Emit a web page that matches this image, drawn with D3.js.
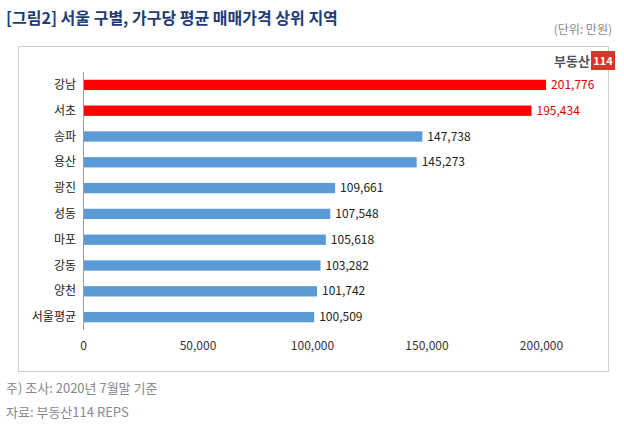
<!DOCTYPE html>
<html><head><meta charset="utf-8">
<script src="https://cdn.jsdelivr.net/npm/d3@7.9.0/dist/d3.min.js"></script>
<style>body{margin:0;background:#fff;font-family:"Noto Sans CJK KR","Noto Sans",sans-serif;}</style>
</head><body><div id="chart"></div>
<script>
const districts = ["강남","서초","송파","용산","광진","성동","마포","강동","양천","서울평균"];
const prices = [201776,195434,147738,145273,109661,107548,105618,103282,101742,100509];
const highlighted = ["강남","서초"];
const xTicks = [0,50000,100000,150000,200000];

const W = 624, H = 428;
const svg = d3.select("#chart").append("svg").attr("width", W).attr("height", H);

svg.append("text").attr("x", 6).attr("y", 24).attr("fill", "#1f3b73")
  .attr("font-size", 16).attr("font-weight", "bold")
  .text("[그림2] 서울 구별, 가구당 평균 매매가격 상위 지역");
svg.append("text").attr("x", 612).attr("y", 34).attr("text-anchor", "end")
  .attr("fill", "#888").attr("font-size", 12).text("(단위: 만원)");

svg.append("rect").attr("x", 18.5).attr("y", 46.5).attr("width", 590).attr("height", 325)
  .attr("fill", "none").attr("stroke", "#d0d0d0");

// logo
svg.append("text").attr("x", 590).attr("y", 66).attr("text-anchor", "end")
  .attr("fill", "#555").attr("font-size", 13).attr("font-weight", "bold").text("부동산");
svg.append("rect").attr("x", 591).attr("y", 51).attr("width", 24).attr("height", 19).attr("fill", "#e0312b");
svg.append("text").attr("x", 603).attr("y", 65).attr("text-anchor", "middle")
  .attr("fill", "#fff").attr("font-size", 11).attr("font-weight", "bold").text("114");

const x = d3.scaleLinear().domain([0, 200000]).range([83, 541]);
const y = d3.scaleBand().domain(districts).range([72, 330]).paddingInner(0.6).paddingOuter(0.3);

svg.append("line").attr("x1", 83.5).attr("x2", 83.5).attr("y1", 72).attr("y2", 330).attr("stroke", "#999");

svg.append("g").attr("transform", "translate(0,338)")
  .call(d3.axisBottom(x).tickValues(xTicks).tickFormat(d3.format(",")).tickSize(0))
  .call(g => g.select(".domain").remove())
  .selectAll("text").attr("font-size", 12).attr("fill", "#333")
  .attr("font-family", "'Noto Sans CJK KR', sans-serif");

const rows = svg.selectAll(".row").data(districts).enter().append("g");
rows.append("rect").attr("x", x(0) + 1).attr("y", d => y(d))
  .attr("width", (d, i) => x(prices[i]) - x(0)).attr("height", y.bandwidth())
  .attr("fill", d => highlighted.includes(d) ? "#ff0000" : "#5b9bd5");
rows.append("text").attr("x", 76).attr("y", d => y(d) + y.bandwidth() / 2 + 4)
  .attr("text-anchor", "end").attr("font-size", 12).attr("fill", "#222").text(d => d);
rows.append("text").attr("x", (d, i) => x(prices[i]) + 6).attr("y", d => y(d) + y.bandwidth() / 2 + 4)
  .attr("font-size", 12).attr("fill", d => highlighted.includes(d) ? "#e00000" : "#222")
  .text((d, i) => d3.format(",")(prices[i]));

svg.append("text").attr("x", 6).attr("y", 393).attr("fill", "#888").attr("font-size", 13)
  .text("주) 조사: 2020년 7월말 기준");
svg.append("text").attr("x", 6).attr("y", 417).attr("fill", "#888").attr("font-size", 13)
  .text("자료: 부동산114 REPS");
</script></body></html>
